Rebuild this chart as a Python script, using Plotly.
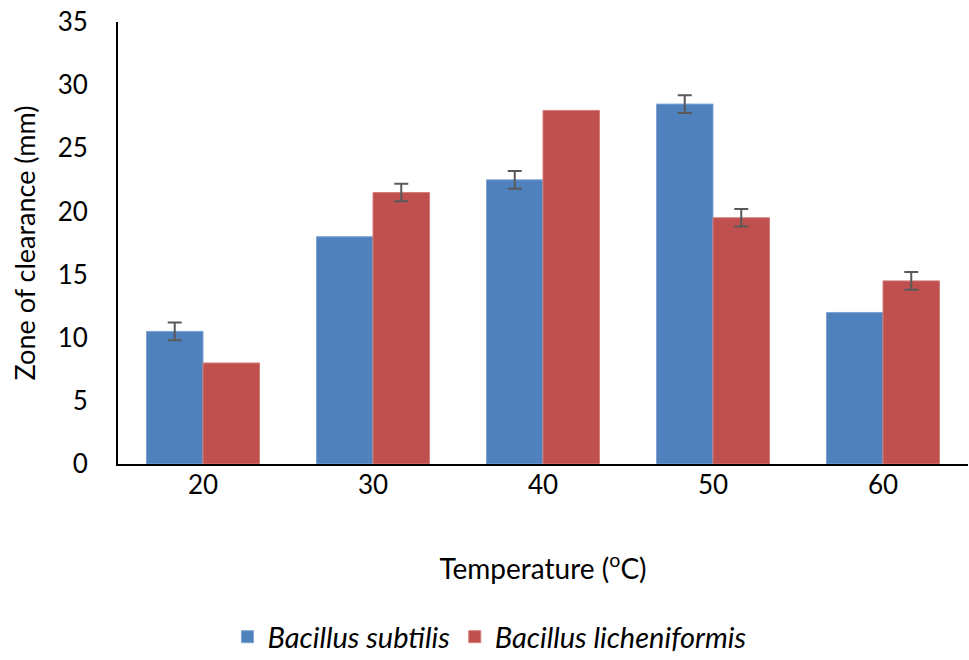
import plotly.graph_objects as go

temperatures = ["20", "30", "40", "50", "60"]
subtilis = [10.5, 18, 22.5, 28.5, 12]
subtilis_err = [0.7, None, 0.7, 0.7, None]
licheniformis = [8, 21.5, 28, 19.5, 14.5]
licheniformis_err = [None, 0.7, None, 0.7, 0.7]


def err_array(vals):
    # "NaN" keeps plotly.js from drawing an error bar for that point
    return [v if v is not None else "NaN" for v in vals]


FONT = "Lato"
err_style = dict(type="data", color="#595959", thickness=2, width=7)

fig = go.Figure()
fig.add_trace(go.Bar(
    x=temperatures, y=subtilis, name="Bacillus subtilis",
    marker=dict(color="#4F81BD", line=dict(color="#7FA3D3", width=1)),
    error_y=dict(array=err_array(subtilis_err), visible=True, **err_style),
))
fig.add_trace(go.Bar(
    x=temperatures, y=licheniformis, name="Bacillus licheniformis",
    marker=dict(color="#C0504D", line=dict(color="#D47D7A", width=1)),
    error_y=dict(array=err_array(licheniformis_err), visible=True, **err_style),
))

fig.update_layout(
    width=969, height=660,
    margin=dict(l=118, r=1, t=22, b=196, autoexpand=False),
    paper_bgcolor="white", plot_bgcolor="white",
    barmode="group", bargap=0.335, bargroupgap=0,
    font=dict(family=FONT, size=26, color="black"),
    showlegend=True,
    legend=dict(orientation="h", x=0.437, xanchor="center", y=-0.391, yanchor="middle",
                font=dict(family=FONT, size=29, style="italic", color="black"),
                itemwidth=30, traceorder="normal"),
    xaxis=dict(
        showline=True, linecolor="black", linewidth=2, automargin=False,
        ticks="", showgrid=False, ticklabelstandoff=-3,
        tickfont=dict(family=FONT, size=26, color="black"),
        title=dict(text="Temperature (<sup>o</sup>C)", standoff=60,
                   font=dict(family=FONT, size=28, color="black")),
    ),
    yaxis=dict(
        range=[0, 35], dtick=5, showline=True, linecolor="black", linewidth=2,
        automargin=False,
        ticks="", showgrid=False, zeroline=False, ticklabelstandoff=23,
        tickfont=dict(family=FONT, size=26, color="black"),
        title=dict(text="Zone of clearance (mm)", standoff=14,
                   font=dict(family=FONT, size=27, color="black")),
    ),
)

fig.write_html("out.html", config={"displayModeBar": False},
               post_script="document.body.style.margin='0';document.body.style.overflow='hidden';")
